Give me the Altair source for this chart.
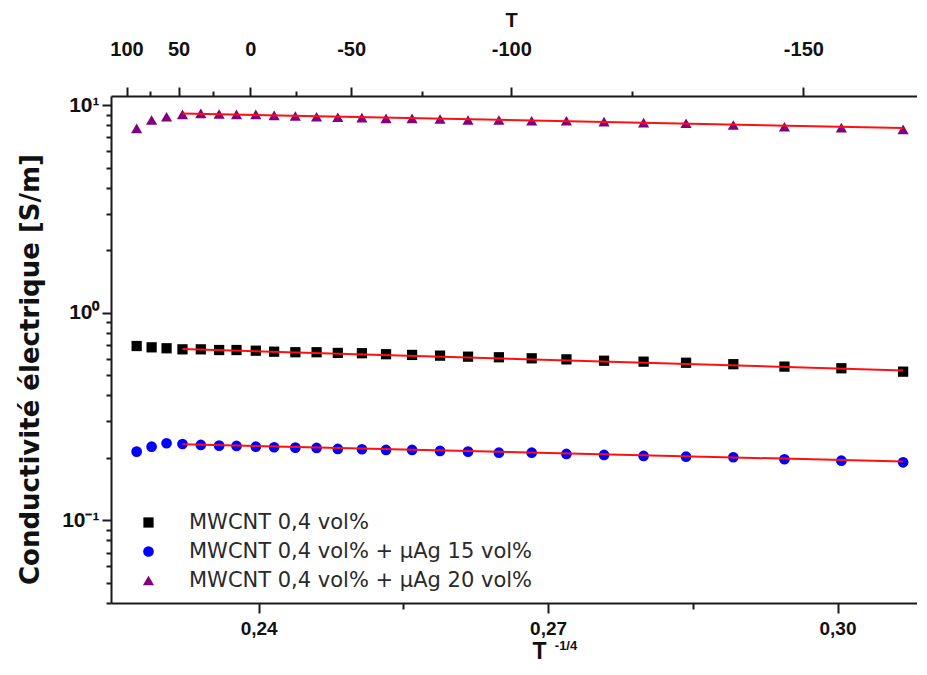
import altair as alt
import pandas as pd

# ---------------- data ----------------
series_names = [
    "MWCNT 0,4 vol%",
    "MWCNT 0,4 vol% + µAg 15 vol%",
    "MWCNT 0,4 vol% + µAg 20 vol%",
]
x_vals = [0.22735, 0.2289, 0.23045, 0.2321, 0.2340, 0.2359, 0.2377, 0.2397, 0.2416,
          0.2438, 0.2460, 0.2482, 0.2507, 0.2532, 0.2559, 0.2588, 0.2617, 0.2649,
          0.2683, 0.2719, 0.2758, 0.2799, 0.2843, 0.2892, 0.2945, 0.3004, 0.3068]
sq_vals = [0.691, 0.681, 0.674, 0.666, 0.666, 0.661, 0.661, 0.656, 0.649, 0.645,
           0.645, 0.640, 0.638, 0.631, 0.626, 0.621, 0.614, 0.610, 0.603, 0.596,
           0.587, 0.581, 0.574, 0.565, 0.550, 0.540, 0.520]
ci_vals = [0.2142, 0.2263, 0.2351, 0.2332, 0.2307, 0.2289, 0.2282, 0.2263, 0.2249,
           0.2239, 0.2232, 0.2207, 0.2200, 0.2183, 0.2183, 0.2159, 0.2142, 0.2118,
           0.2118, 0.2088, 0.2065, 0.2042, 0.2026, 0.2013, 0.1969, 0.1938, 0.1904]
tr_vals = [7.72, 8.47, 8.78, 9.02, 9.12, 9.05, 9.02, 9.02, 8.92, 8.85, 8.78, 8.73,
           8.69, 8.63, 8.63, 8.56, 8.47, 8.47, 8.40, 8.40, 8.31, 8.22, 8.17, 8.01,
           7.86, 7.78, 7.64]

# linear fits (red lines): start / end x and values per series
fit_x = [0.2321, 0.3068]
fit_sq = [0.668, 0.527]
fit_ci = [0.2325, 0.1921]
fit_tr = [9.10, 7.75]

# axes ticks
bottom_ticks = [0.24, 0.255, 0.27, 0.285, 0.30]
bottom_labels = ["0,24", "", "0,27", "", "0,30"]
top_ticks = [0.2263, 0.22878, 0.23169, 0.23522, 0.23912, 0.24391, 0.24958,
             0.25695, 0.26619, 0.27874, 0.29646]
top_labels = ["100", "", "50", "", "0", "", "-50", "", "-100", "", "-150"]
y_ticks = [0.04, 0.05, 0.06, 0.07, 0.08, 0.09, 0.1, 0.2, 0.3, 0.4, 0.5, 0.6, 0.7,
           0.8, 0.9, 1, 2, 3, 4, 5, 6, 7, 8, 9, 10]
y_major = [0.1, 1, 10]
y_major_labels = ["10⁻¹", "10⁰", "10¹"]

# ---------------- tables ----------------
rows = []
for name, vals in zip(series_names, [sq_vals, ci_vals, tr_vals]):
    for xv, yv in zip(x_vals, vals):
        rows.append({"x": xv, "y": yv, "s": name})
pts = pd.DataFrame(rows)

frows = []
for name, vals in zip(series_names, [fit_sq, fit_ci, fit_tr]):
    for xv, yv in zip(fit_x, vals):
        frows.append({"x": xv, "y": yv, "s": name})
fits = pd.DataFrame(frows)


def js(lst):
    return "[" + ",".join(repr(v) if not isinstance(v, str) else "'" + v + "'" for v in lst) + "]"


minor_bottom = [v for v, l in zip(bottom_ticks, bottom_labels) if l == ""]
minor_top = [v for v, l in zip(top_ticks, top_labels) if l == ""]

FONT = "Liberation Sans"
AX = "#1a1a1a"

x_scale = alt.Scale(domain=[0.22469, 0.30824], nice=False, zero=False)
y_scale = alt.Scale(type="log", domain=[0.04, 11.05], nice=False)

bottom_axis = alt.Axis(
    orient="bottom", values=bottom_ticks,
    labelExpr=f"{js(bottom_labels)}[indexof({js(bottom_ticks)}, datum.value)]",
    tickSize={"condition": {"test": f"indexof({js(minor_bottom)}, datum.value) >= 0", "value": 6}, "value": 10},
    grid=False, domainColor=AX, domainWidth=2, tickColor=AX, tickWidth=2,
    labelFont=FONT, labelFontSize=19, labelFontWeight="bold", labelColor="#111",
    labelPadding=6,
    title="T", titleFont=FONT, titleFontSize=23, titleFontWeight="bold", titleColor="#111",
    titleX=428, titleY=48, titleAlign="center", titleBaseline="middle", titleAngle=0,
)

top_axis = alt.Axis(
    orient="top", values=top_ticks,
    labelExpr=f"{js(top_labels)}[indexof({js(top_ticks)}, datum.value)]",
    tickSize={"condition": {"test": f"indexof({js(minor_top)}, datum.value) >= 0", "value": 5}, "value": 9},
    grid=False, domainColor=AX, domainWidth=2, tickColor=AX, tickWidth=2,
    labelFont=FONT, labelFontSize=20, labelFontWeight="bold", labelColor="#111",
    labelPadding=28, labelFlush=False, labelOverlap=False,
    title="T", titleFont=FONT, titleFontSize=20, titleFontWeight="bold", titleColor="#111",
    titleX=400, titleY=-76, titleAlign="center", titleBaseline="middle", titleAngle=0,
)

left_axis = alt.Axis(
    orient="left", values=y_ticks,
    labelExpr=f"indexof({js(y_major)}, datum.value) >= 0 ? {js(y_major_labels)}[indexof({js(y_major)}, datum.value)] : ''",
    tickSize={"condition": {"test": f"indexof({js(y_major)}, datum.value) >= 0", "value": 9}, "value": 5},
    grid=False, domainColor=AX, domainWidth=2, tickColor=AX, tickWidth=2,
    labelFont=FONT, labelFontSize=21, labelFontWeight="bold", labelColor="#111",
    labelPadding=3, labelOverlap=False, labelFlush=False,
    title="Conductivité électrique [S/m]", titleFont="DejaVu Sans", titleFontSize=26,
    titleFontWeight="bold", titleColor="#111",
    titleX=-81, titleY=273, titleAngle=270, titleAlign="center", titleBaseline="middle",
)

points = alt.Chart(pts).mark_point(filled=True, opacity=1, strokeWidth=0).encode(
    x=alt.X("x:Q", scale=x_scale, axis=bottom_axis),
    y=alt.Y("y:Q", scale=y_scale, axis=left_axis),
    color=alt.Color("s:N", scale=alt.Scale(domain=series_names, range=["#000000", "#0000ff", "#800080"]),
                    legend=alt.Legend(
                        title=None, orient="none", legendX=27, legendY=416, padding=0,
                        labelFont="DejaVu Sans", labelFontSize=21, labelColor="#2a2a2a",
                        labelOffset=30, symbolSize=100, rowPadding=7,
                        symbolStrokeWidth=0, labelLimit=600,
                    )),
    shape=alt.Shape("s:N", scale=alt.Scale(domain=series_names, range=["square", "circle", "triangle-up"])),
    size=alt.Size("s:N", scale=alt.Scale(domain=series_names, range=[105, 125, 190]), legend=None),
)

lines = alt.Chart(fits).mark_line(color="#ff1010", strokeWidth=2).encode(
    x=alt.X("x:Q", scale=x_scale, axis=top_axis),
    y=alt.Y("y:Q", scale=y_scale, axis=None),
    detail="s:N",
)

sup = alt.Chart(pd.DataFrame({"t": ["-1/4"]})).mark_text(
    font=FONT, fontSize=13, fontWeight="bold", color="#111", align="center", baseline="middle"
).encode(text="t:N", x=alt.value(455), y=alt.value(550))

chart = (
    alt.layer(points, lines, sup)
    .resolve_scale(x="shared", y="shared")
    .resolve_axis(x="independent", y="independent")
    .properties(
        width=806, height=507,
        padding={"left": 103, "top": 88, "right": 0, "bottom": 60},
        autosize=alt.AutoSizeParams(type="none"),
        background="white",
    )
    .configure_view(stroke=None)
)

chart.save("out.html", embed_options={"renderer": "svg", "actions": False})
